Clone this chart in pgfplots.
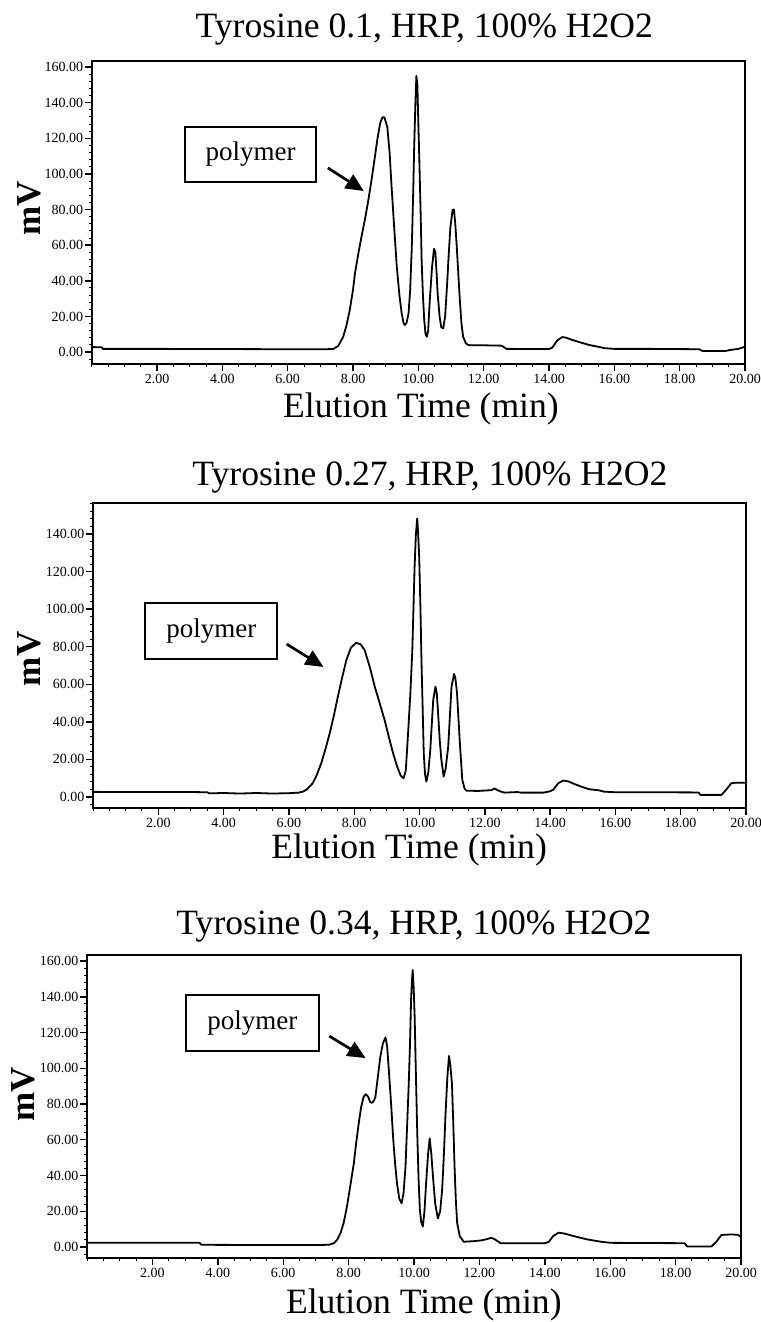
\documentclass[border=0pt]{standalone}
\usepackage{fontspec}
\setmainfont{Liberation Serif}
\usepackage{pgfplots}
\pgfplotsset{compat=1.18}
\usetikzlibrary{arrows.meta}

\tikzset{
  polybox/.style={line width=1bp},
  polyarrow/.style={line width=1.35bp, -{Triangle[length=9bp,width=8bp]}},
}

\pgfplotsset{
  every axis title shift=0pt,
  chrom/.style={
    scale only axis,
    anchor=north west,
    xmin=0, xmax=20,
    xtick={2,4,...,20},
    minor xtick={0,0.5,...,20},
    minor ytick={-4,0,4,...,160},
    tick pos=left,
    tick align=outside,
    major tick length=3.5bp,
    minor tick length=1.5bp,
    axis line style={line width=1bp},
    every tick/.style={line width=0.7bp, black},
    every minor tick/.style={line width=0.5bp, black},
    /pgf/number format/fixed,
    /pgf/number format/fixed zerofill,
    /pgf/number format/precision=2,
    /pgf/number format/assume math mode=true,
    tick label style={font=\fontsize{7bp}{8bp}\selectfont},
    yticklabel style={inner sep=0.6bp},
    xticklabel style={inner sep=1.2bp},
    title style={font=\fontsize{17.8bp}{20bp}\selectfont, anchor=base},
    xlabel style={font=\fontsize{17.8bp}{20bp}\selectfont, anchor=base},
    ylabel style={font=\fontsize{17.5bp}{20bp}\selectfont\bfseries, anchor=center},
    xlabel={Elution Time (min)},
    ylabel={mV},
    clip=false,
  },
  trace/.style={black, line width=0.9bp, line join=round, no markers},
}

\begin{document}
\begin{tikzpicture}
\useasboundingbox (0,0) rectangle (380.5bp,-661bp);

% ---------------- Panel 1 ----------------
\begin{axis}[chrom,
  at={(45.85bp,-30.5bp)}, width=326.65bp, height=151.5bp,
  ymin=-6.7, ymax=163.4, ytick={0,20,...,160},
  title={Tyrosine 0.1, HRP, 100\% H2O2},
  title style={at={(rel axis cs:0.509,1.079)}},
  xlabel style={at={(rel axis cs:0.504,-0.178)}},
  ylabel style={at={(rel axis cs:-0.095,0.515)}},
]
\addplot[trace] coordinates {
(0,2.8) (0.3,2.7) (0.35,1.8) (2,1.8) (4,1.7) (6,1.6) (7.2,1.6) (7.4,1.8)
(7.55,3.5) (7.7,8.6) (7.8,15) (7.9,23.6) (8.0,35) (8.06,44.2) (8.16,55)
(8.26,64.8) (8.37,75) (8.47,85.4) (8.57,97) (8.67,109.7) (8.75,120)
(8.83,128.5) (8.9,131.8) (8.96,131.8) (9.05,126.3) (9.12,112) (9.18,92.9)
(9.26,70) (9.34,47.9) (9.42,32) (9.49,21.7) (9.55,16) (9.59,15.2)
(9.64,16.5) (9.70,21.7) (9.75,35) (9.80,59.2) (9.84,88) (9.87,113.5)
(9.91,140) (9.94,155) (9.97,150) (10.00,128) (10.03,107.9) (10.07,78)
(10.10,51.7) (10.14,32) (10.18,18) (10.22,10) (10.26,8.6) (10.30,12)
(10.35,29.2) (10.42,48) (10.48,58) (10.52,56) (10.56,44) (10.59,33)
(10.65,20) (10.70,14) (10.76,13.3) (10.82,20) (10.88,38) (10.92,51.7)
(10.98,70) (11.05,80) (11.09,80) (11.13,72) (11.17,61) (11.22,45)
(11.27,29.2) (11.32,16) (11.37,8.6) (11.45,5) (11.53,3.9) (12.0,3.8)
(12.55,3.6) (12.7,1.8) (14.0,1.7) (14.1,2.5) (14.25,6.5) (14.4,8.4)
(14.5,8.2) (14.73,6.7) (15.0,5.2) (15.25,3.9) (15.5,3) (15.7,2.2)
(16,1.8) (17,1.8) (18.6,1.6) (18.7,0.6) (19.4,0.6) (19.55,1.2)
(19.8,1.8) (20,3.0)
};
\draw[polybox] (axis cs:2.86,126.4) rectangle (axis cs:6.87,95.5);
\node[font=\fontsize{13.5bp}{16bp}\selectfont] at (axis cs:4.865,110.95) {polymer};
\draw[polyarrow] (axis cs:7.23,103.4) -- (axis cs:8.33,90.4);
\end{axis}

% ---------------- Panel 2 ----------------
\begin{axis}[chrom,
  at={(46.5bp,-251.5bp)}, width=326.5bp, height=152.5bp,
  ymin=-5.9, ymax=156.5, ytick={0,20,...,140},
  title={Tyrosine 0.27, HRP, 100\% H2O2},
  title style={at={(rel axis cs:0.516,1.059)}},
  xlabel style={at={(rel axis cs:0.484,-0.164)}},
  ylabel style={at={(rel axis cs:-0.097,0.489)}},
]
\addplot[trace] coordinates {
(0,2.7) (1,2.6) (2,2.6) (3,2.6) (3.5,2.5) (3.55,1.9) (4,2.1) (4.5,1.8)
(5,2.1) (5.5,1.8) (6,2.0) (6.3,2.3) (6.43,2.8) (6.55,4) (6.73,7.3)
(6.85,11.5) (6.99,17.9) (7.12,25.5) (7.25,33.9) (7.38,43.5) (7.50,53.4)
(7.63,63.5) (7.76,72.9) (7.9,79.5) (8.06,82.1) (8.2,81.2) (8.32,78.2)
(8.48,69) (8.63,58.7) (8.78,50) (8.93,41) (9.06,32) (9.19,23.3)
(9.32,16) (9.42,11.5) (9.51,9.9) (9.58,14) (9.65,33.9) (9.72,55)
(9.78,78.2) (9.85,122.6) (9.89,140) (9.93,148.3) (9.96,140) (9.99,127.9)
(10.03,100) (10.06,72.9) (10.10,45) (10.13,23.3) (10.17,12) (10.21,8.2)
(10.27,13) (10.33,25) (10.42,51.6) (10.49,58.7) (10.53,55) (10.57,44.5)
(10.62,30) (10.67,19.7) (10.74,10.9) (10.80,15) (10.88,26.9) (10.98,58.7)
(11.06,65.5) (11.1,63) (11.15,55.2) (11.23,30.4) (11.31,9.1) (11.38,4.5)
(11.44,3.3) (11.8,3.2) (12.2,3.6) (12.3,4.5) (12.4,3.5) (12.5,2.8)
(12.6,2.3) (13.0,2.6) (13.1,2.3) (13.8,2.3) (14.0,3.0) (14.1,3.9)
(14.25,7.3) (14.4,8.7) (14.55,8.3) (14.8,6.5) (15.0,5.2) (15.2,4.1)
(15.5,3.5) (15.65,2.8) (16,2.5) (17,2.5) (18.55,2.4) (18.6,1.1)
(19.25,1.1) (19.4,4) (19.55,7.3) (19.7,7.6) (20,7.5)
};
\draw[polybox] (axis cs:1.60,103.2) rectangle (axis cs:5.65,73.4);
\node[font=\fontsize{13.5bp}{16bp}\selectfont] at (axis cs:3.625,88.3) {polymer};
\draw[polyarrow] (axis cs:5.93,81.4) -- (axis cs:7.06,69.2);
\end{axis}

% ---------------- Panel 3 ----------------
\begin{axis}[chrom,
  at={(43.5bp,-477.5bp)}, width=327bp, height=151.5bp,
  ymin=-6.2, ymax=163.4, ytick={0,20,...,160},
  title={Tyrosine 0.34, HRP, 100\% H2O2},
  title style={at={(rel axis cs:0.5,1.069)}},
  xlabel style={at={(rel axis cs:0.515,-0.182)}},
  ylabel style={at={(rel axis cs:-0.097,0.541)}},
]
\addplot[trace] coordinates {
(0,2.4) (1,2.4) (2,2.3) (3,2.3) (3.44,2.3) (3.5,1.2) (5,1.1) (6,1.1)
(7,1.1) (7.4,1.2) (7.55,2.1) (7.65,4) (7.75,7.6) (7.85,13.5) (7.95,22.6)
(8.05,34) (8.16,46.8) (8.23,58) (8.31,69.2) (8.38,78) (8.46,84.1)
(8.53,85.5) (8.6,84) (8.66,81) (8.72,80.7) (8.78,82) (8.82,84.1)
(8.9,96) (8.97,106.5) (9.05,114) (9.13,117.3) (9.18,112) (9.23,99)
(9.30,80) (9.36,61.7) (9.42,47) (9.48,35.6) (9.55,27) (9.62,24.4)
(9.68,30) (9.74,45) (9.79,68) (9.84,91.6) (9.88,115) (9.91,138.2)
(9.94,150) (9.96,155) (9.99,145) (10.02,128.9) (10.06,95) (10.10,63.5)
(10.14,38) (10.18,20.7) (10.22,14) (10.27,11.4) (10.32,20) (10.37,35.6)
(10.43,52) (10.48,60.8) (10.53,52) (10.58,39.4) (10.65,24) (10.73,16)
(10.80,20) (10.86,31.9) (10.91,50) (10.96,72.7) (11.02,95) (11.07,106.9)
(11.11,102) (11.16,91.6) (11.2,70) (11.24,45) (11.28,26) (11.32,13.4)
(11.4,6) (11.52,2.9) (11.8,3.2) (12.03,3.6) (12.2,4.2) (12.36,5.1)
(12.45,4.5) (12.65,2.1) (14.0,2.1) (14.12,2.8) (14.25,6) (14.42,8.0)
(14.6,7.5) (14.94,5.8) (15.3,4.2) (15.69,3.0) (16,2.3) (17,2.2)
(18.28,2.1) (18.35,0.3) (19.1,0.3) (19.25,3) (19.4,6.7) (19.7,7.0)
(19.9,6.8) (20,5.6)
};
\draw[polybox] (axis cs:3.04,141) rectangle (axis cs:7.08,109.7);
\node[font=\fontsize{13.5bp}{16bp}\selectfont] at (axis cs:5.06,125.35) {polymer};
\draw[polyarrow] (axis cs:7.41,118) -- (axis cs:8.52,105.7);
\end{axis}
\end{tikzpicture}
\end{document}
